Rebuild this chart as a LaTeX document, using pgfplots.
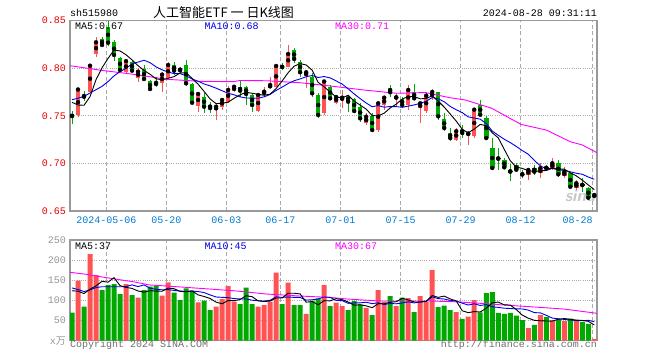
\documentclass[border=0pt]{standalone}
\usepackage{fontspec}
\setmonofont{Liberation Mono}
\newfontfamily\cjk{Noto Sans CJK SC}
\usepackage{pgfplots}
\pgfplotsset{compat=1.18}
\usepackage{pgfplotstable}

\definecolor{upred}{RGB}{255,82,82}
\definecolor{dngreen}{RGB}{0,168,0}
\definecolor{tickred}{RGB}{230,0,0}
\definecolor{tickblue}{RGB}{0,122,210}
\definecolor{framegray}{RGB}{153,153,153}
\definecolor{gridgray}{RGB}{170,170,170}
\definecolor{txtgray}{RGB}{110,110,110}
\definecolor{volgray}{RGB}{150,150,150}
\definecolor{mablue}{RGB}{0,0,235}
\definecolor{mamag}{RGB}{255,0,255}
\newcommand\mono{\ttfamily\fontsize{10bp}{10bp}\selectfont}

% i open high low close volume
\pgfplotstableread{
i o h l c v
1 0.7509 0.7788 0.7493 0.7777 148.9
3 0.7754 0.8045 0.7751 0.8027 215.2
4 0.8150 0.8325 0.8119 0.8273 163.0
9 0.7962 0.8086 0.7955 0.8075 140.7
11 0.7901 0.7999 0.7859 0.7964 106.7
15 0.7842 0.7964 0.7747 0.7933 111.7
16 0.7903 0.8061 0.7877 0.8034 145.0
21 0.7604 0.7751 0.7541 0.7730 95.3
24 0.7562 0.7632 0.7456 0.7596 84.4
25 0.7596 0.7685 0.7562 0.7667 103.5
26 0.7649 0.7814 0.7636 0.7772 135.8
27 0.7764 0.7814 0.7751 0.7806 96.8
31 0.7551 0.7737 0.7537 0.7719 84.4
32 0.7726 0.7806 0.7701 0.7754 88.6
33 0.7796 0.7912 0.7790 0.7824 96.8
34 0.7806 0.8034 0.7803 0.8024 168.8
36 0.8017 0.8245 0.8013 0.8150 144.0
39 0.7922 0.7982 0.7790 0.7958 66.3
42 0.7533 0.7872 0.7509 0.7861 138.2
44 0.7640 0.7719 0.7625 0.7698 94.3
45 0.7667 0.7772 0.7579 0.7691 86.1
49 0.7422 0.7527 0.7404 0.7491 81.2
51 0.7351 0.7649 0.7333 0.7632 125.8
52 0.7614 0.7712 0.7562 0.7691 96.8
54 0.7688 0.7737 0.7596 0.7695 86.1
56 0.7614 0.7824 0.7562 0.7772 106.0
58 0.7579 0.7649 0.7422 0.7632 110.9
59 0.7554 0.7751 0.7530 0.7712 96.8
60 0.7698 0.7782 0.7667 0.7751 175.5
64 0.7249 0.7372 0.7232 0.7338 71.2
66 0.7304 0.7320 0.7197 0.7314 59.6
67 0.7285 0.7583 0.7267 0.7565 101.0
76 0.6878 0.6949 0.6826 0.6931 31.5
78 0.6896 0.7001 0.6844 0.6949 63.8
80 0.6949 0.7054 0.6931 0.7001 50.6
82 0.6871 0.6966 0.6850 0.6913 48.9
84 0.6745 0.6826 0.6721 0.6791 48.9
87 0.6650 0.6668 0.6647 0.6668 4.2
}\redtab

\pgfplotstableread{
i o h l c v
0 0.7504 0.7551 0.7414 0.7498 69.5
2 0.7716 0.7764 0.7661 0.7701 84.4
5 0.8308 0.8332 0.8224 0.8245 125.8
6 0.8434 0.8497 0.8234 0.8269 138.2
7 0.8271 0.8297 0.8077 0.8140 140.7
8 0.8111 0.8122 0.7964 0.7982 115.9
10 0.8069 0.8087 0.7962 0.7975 113.4
12 0.7992 0.8035 0.7877 0.7887 125.8
13 0.7866 0.7877 0.7772 0.7782 134.0
14 0.7859 0.7905 0.7800 0.7835 135.8
17 0.8034 0.8066 0.7930 0.7975 119.1
18 0.7990 0.8017 0.7947 0.7980 101.0
19 0.8034 0.8087 0.7814 0.7842 130.0
20 0.7832 0.7850 0.7620 0.7638 123.4
22 0.7701 0.7737 0.7530 0.7596 99.3
23 0.7614 0.7649 0.7527 0.7582 76.2
28 0.7800 0.7877 0.7701 0.7764 91.1
29 0.7803 0.7814 0.7614 0.7730 131.5
30 0.7719 0.7740 0.7544 0.7614 91.1
35 0.8017 0.8052 0.7982 0.8013 91.1
37 0.8192 0.8213 0.8052 0.8098 88.6
38 0.8069 0.8087 0.7912 0.7958 88.6
40 0.7912 0.7947 0.7701 0.7737 98.5
41 0.7719 0.7737 0.7474 0.7509 105.2
43 0.7806 0.7824 0.7667 0.7684 86.1
46 0.7712 0.7719 0.7544 0.7649 76.2
47 0.7677 0.7688 0.7530 0.7551 98.5
48 0.7596 0.7632 0.7439 0.7474 90.3
50 0.7498 0.7527 0.7327 0.7351 63.8
53 0.7790 0.7824 0.7701 0.7748 110.9
55 0.7677 0.7701 0.7586 0.7614 106.7
57 0.7754 0.7832 0.7667 0.7684 71.2
61 0.7751 0.7755 0.7460 0.7495 83.6
62 0.7470 0.7530 0.7344 0.7372 86.9
63 0.7320 0.7372 0.7232 0.7267 76.2
65 0.7355 0.7407 0.7267 0.7320 53.9
68 0.7617 0.7670 0.7498 0.7512 70.5
69 0.7477 0.7498 0.7249 0.7267 118.4
70 0.7162 0.7267 0.6934 0.6952 120.9
71 0.7056 0.7162 0.6934 0.7050 68.8
72 0.7039 0.7057 0.6949 0.6959 66.3
73 0.6920 0.6994 0.6812 0.6914 68.8
74 0.6980 0.7004 0.6913 0.6934 62.1
75 0.6890 0.6931 0.6844 0.6884 51.4
77 0.6955 0.6983 0.6878 0.6913 39.0
79 0.6957 0.6983 0.6931 0.6951 58.8
81 0.7001 0.7036 0.6861 0.6886 53.1
83 0.6896 0.6913 0.6739 0.6755 54.6
85 0.6777 0.6844 0.6703 0.6773 46.4
86 0.6745 0.6756 0.6616 0.6640 41.5
}\greentab

% moving averages: i ma5 ma10 vma5 vma10
\pgfplotstableread{
i m5 m10 v5 v10
0 0.7642 0.7670 124.0 131.0
1 0.7614 0.7685 123.0 127.0
2 0.7611 0.7705 117.0 122.0
3 0.7701 0.7740 128.0 126.0
4 0.7880 0.7775 136.2 132.0
5 0.8005 0.7810 147.5 134.0
6 0.8103 0.7860 145.3 134.0
7 0.8191 0.7920 156.6 134.0
8 0.8182 0.7965 136.7 134.0
9 0.8142 0.7999 132.3 134.2
10 0.8088 0.8046 129.8 138.6
11 0.8027 0.8065 123.5 134.4
12 0.7977 0.8084 120.5 138.5
13 0.7937 0.8059 124.1 130.4
14 0.7889 0.8015 123.1 127.7
15 0.7880 0.7984 122.8 126.3
16 0.7894 0.7961 130.5 127.0
17 0.7912 0.7944 129.1 124.8
18 0.7951 0.7944 122.5 123.3
19 0.7953 0.7921 121.4 122.3
20 0.7894 0.7887 123.7 123.3
21 0.7833 0.7864 113.8 122.1
22 0.7757 0.7835 109.8 119.5
23 0.7678 0.7815 104.8 113.7
24 0.7628 0.7791 95.7 108.5
25 0.7634 0.7764 91.7 107.7
26 0.7643 0.7738 99.8 106.8
27 0.7685 0.7721 99.3 104.6
28 0.7721 0.7699 102.3 103.6
29 0.7748 0.7688 111.7 103.7
30 0.7737 0.7686 109.3 100.5
31 0.7727 0.7685 99.0 99.4
32 0.7716 0.7700 97.3 98.3
33 0.7728 0.7725 98.5 100.4
34 0.7787 0.7767 105.9 108.8
35 0.7867 0.7802 105.9 107.6
36 0.7953 0.7840 117.9 108.4
37 0.8022 0.7869 117.9 107.6
38 0.8049 0.7888 116.2 107.4
39 0.8035 0.7911 95.7 100.8
40 0.7980 0.7924 97.2 101.6
41 0.7852 0.7903 89.4 103.7
42 0.7805 0.7913 99.4 108.6
43 0.7750 0.7899 98.9 107.5
44 0.7698 0.7867 104.5 100.1
45 0.7689 0.7834 102.0 99.6
46 0.7717 0.7784 96.2 92.8
47 0.7655 0.7730 88.2 93.8
48 0.7613 0.7681 89.1 94.0
49 0.7571 0.7635 86.5 95.5
50 0.7503 0.7596 82.0 92.0
51 0.7500 0.7608 91.9 94.1
52 0.7528 0.7591 91.6 89.9
53 0.7583 0.7598 95.7 92.4
54 0.7623 0.7597 96.7 91.6
55 0.7676 0.7590 105.3 93.6
56 0.7704 0.7602 101.3 96.6
57 0.7703 0.7615 96.2 93.9
58 0.7679 0.7631 96.2 95.9
59 0.7683 0.7653 98.3 97.5
60 0.7710 0.7693 112.1 108.7
61 0.7655 0.7679 107.6 104.5
62 0.7592 0.7648 110.7 103.5
63 0.7519 0.7599 103.8 100.0
64 0.7445 0.7564 98.7 98.5
65 0.7358 0.7534 74.4 93.2
66 0.7322 0.7489 69.6 88.6
67 0.7361 0.7477 72.4 91.6
68 0.7410 0.7465 71.2 87.5
69 0.7396 0.7420 80.7 89.7
70 0.7322 0.7340 94.1 84.2
71 0.7269 0.7296 95.9 82.7
72 0.7148 0.7254 89.0 80.7
73 0.7028 0.7219 88.6 79.9
74 0.6962 0.7179 77.4 79.0
75 0.6948 0.7135 63.5 78.8
76 0.6924 0.7097 56.0 76.0
77 0.6915 0.7032 50.6 69.8
78 0.6922 0.6975 49.6 69.1
79 0.6926 0.6944 48.9 63.1
80 0.6949 0.6949 48.7 56.1
81 0.6940 0.6932 53.1 54.5
82 0.6940 0.6928 55.0 52.8
83 0.6901 0.6912 53.2 51.4
84 0.6869 0.6897 51.2 50.1
85 0.6824 0.6886 50.4 49.6
86 0.6774 0.6857 48.1 50.6
87 0.6725 0.6833 39.1 47.1
}\matab

\pgfplotstableread{
x y
-0.33 0.8027
4.7 0.7980
10.2 0.7937
15.8 0.7884
21.3 0.7863
26.9 0.7859
28.0 0.7872
32.4 0.7869
38.0 0.7848
43.0 0.7814
48.6 0.7772
54.0 0.7737
58.8 0.7745
63.0 0.7690
65.5 0.7667
69.9 0.7580
74.8 0.7410
79.0 0.7351
83.0 0.7228
85.0 0.7194
87.45 0.7113
}\mathirty

\pgfplotstableread{
x y
-0.33 169.8
2.4 164.8
4.7 158.9
7.5 152.4
10.2 146.4
13.0 138.2
15.8 135.8
21.3 130.0
26.9 124.1
32.4 115.9
38.0 110.9
43.0 107.5
45.8 103.5
51.3 98.5
59.7 98.5
63.6 96.8
68.0 92.8
71.9 88.6
76.3 84.4
81.9 78.7
87.45 68.0
}\vmathirty

\pgfplotsset{
  kframe/.style={
    scale only axis, anchor=south west, width=527bp,
    xmin=-0.333, xmax=87.45,
    axis line style={draw=framegray, line width=1.2bp},
    major tick length=0pt,
    xtick={5.72,15.72,25.72,34.72,44.72,54.72,64.72,74.72,86.72},
    xmajorgrids, ymajorgrids,
    major x grid style={draw=gridgray, line width=0.9bp, dash pattern=on 4bp off 2.5bp},
    major y grid style={draw=gridgray, line width=0.9bp, dash pattern=on 1bp off 1.2bp},
  },
  wick/.style={only marks, mark=none,
    error bars/.cd, y dir=both, y explicit, error mark=none,
    error bar style={solid, line width=1bp, draw=#1}},
  body/.style={only marks, mark=none,
    error bars/.cd, y dir=both, y explicit, error mark=none,
    error bar style={solid, line width=4.5bp, draw=#1}},
}

\begin{document}
\begin{tikzpicture}[x=1bp,y=1bp]
\path (0,0) rectangle (660,360);

\node[anchor=west, font=\mono, inner sep=0pt] at (70,346.7) {sh515980};
\node[font=\cjk\fontsize{13bp}{13bp}\selectfont, inner sep=0pt] at (223.5,347.3) {人工智能ETF 一 日K线图};
\node[anchor=east, font=\mono, inner sep=0pt] at (597,346.7) {2024-08-28 09:31:11};

\node[font=\sffamily\bfseries\itshape\fontsize{17bp}{17bp}\selectfont, text=black!22, inner sep=0pt] at (580,164) {sina};

\begin{axis}[kframe, at={(70bp,149bp)}, height=190.3bp,
  ymin=0.65, ymax=0.85,
  xticklabels={2024-05-06,05-20,06-03,06-17,07-01,07-15,07-29,08-12,\llap{08-28}},
  xticklabel style={font=\mono, text=tickblue, anchor=north, inner sep=0pt, yshift=-6bp},
  ytick={0.65,0.70,0.75,0.80,0.85},
  yticklabels={0.65,0.70,0.75,0.80,0.85},
  yticklabel style={font=\mono, text=tickred, anchor=east, inner sep=0pt, xshift=-4bp},
]
\addplot[wick=upred] table[x=i, y=c, y error plus expr=\thisrow{h}-\thisrow{c}, y error minus expr=\thisrow{c}-\thisrow{l}] {\redtab};
\addplot[wick=dngreen] table[x=i, y=c, y error plus expr=\thisrow{h}-\thisrow{c}, y error minus expr=\thisrow{c}-\thisrow{l}] {\greentab};
\addplot[body=upred] table[x=i, y expr=(\thisrow{o}+\thisrow{c})/2, y error expr={max(abs(\thisrow{c}-\thisrow{o})/2,0.0005)}] {\redtab};
\addplot[body=dngreen] table[x=i, y expr=(\thisrow{o}+\thisrow{c})/2, y error expr={max(abs(\thisrow{c}-\thisrow{o})/2,0.0005)}] {\greentab};
\addplot[mamag, line width=0.9bp] table[x=x, y=y] {\mathirty};
\addplot[mablue, line width=0.9bp] table[x=i, y=m10] {\matab};
\addplot[black, line width=0.9bp] table[x=i, y=m5] {\matab};
\end{axis}

\node[anchor=west, font=\mono, inner sep=0pt] at (75,334.2) {MA5:0.67};
\node[anchor=west, font=\mono, inner sep=0pt, text=mablue] at (204.3,334.2) {MA10:0.68};
\node[anchor=west, font=\mono, inner sep=0pt, text=mamag] at (335,334.2) {MA30:0.71};

\begin{axis}[kframe, at={(70bp,19.3bp)}, height=100.7bp,
  ymin=0, ymax=250,
  xticklabels={},
  ytick={0,50,100,150,200,250},
  yticklabels={{x\cjk 万},50,100,150,200,250},
  yticklabel style={font=\mono, text=volgray, anchor=east, inner sep=0pt, xshift=-4bp},
]
\addplot[ybar, bar width=5bp, bar shift=0pt, fill=upred, draw=none] table[x=i, y=v] {\redtab};
\addplot[ybar, bar width=5bp, bar shift=0pt, fill=dngreen, draw=none] table[x=i, y=v] {\greentab};
\addplot[mamag, line width=0.9bp] table[x=x, y=y] {\vmathirty};
\addplot[mablue, line width=0.9bp] table[x=i, y=v10] {\matab};
\addplot[black, line width=0.9bp] table[x=i, y=v5] {\matab};
\end{axis}

\node[anchor=west, font=\mono, inner sep=0pt] at (75,113.3) {MA5:37};
\node[anchor=west, font=\mono, inner sep=0pt, text=mablue] at (204.3,113.3) {MA10:45};
\node[anchor=west, font=\mono, inner sep=0pt, text=mamag] at (335,113.3) {MA30:67};

\node[anchor=west, font=\mono, inner sep=0pt, text=txtgray] at (70,15) {Copyright 2024 SINA.COM};
\node[anchor=east, font=\mono, inner sep=0pt, text=txtgray] at (597,15) {http://finance.sina.com.cn};
\end{tikzpicture}
\end{document}
